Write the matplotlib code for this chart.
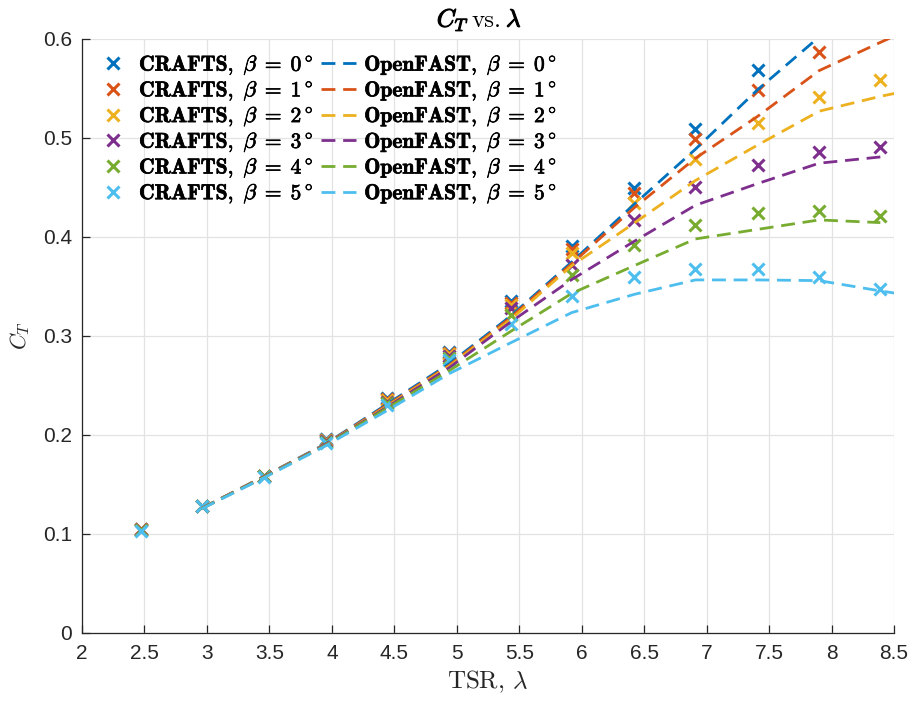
import numpy as np
import matplotlib
matplotlib.use("Agg")
import matplotlib.pyplot as plt
import matplotlib.patheffects as pe

plt.rcParams['mathtext.fontset'] = 'cm'
plt.rcParams['font.family'] = ['Liberation Sans', 'DejaVu Sans']

# pitch angles and MATLAB default colour order
betas = [0, 1, 2, 3, 4, 5]
colors = ['#0072BD', '#D95319', '#EDB120', '#7E2F8E', '#77AC30', '#4DBEEE']

# CRAFTS samples
tsr_crafts = [2.47, 2.96, 3.46, 3.95, 4.44, 4.94, 5.43, 5.92, 6.42, 6.91, 7.41, 7.90, 8.39]
ct_crafts = [
    [0.105, 0.128, 0.159, 0.196, 0.237, 0.2835, 0.335, 0.391, 0.449, 0.5095, 0.569, np.nan, np.nan],
    [0.105, 0.128, 0.159, 0.195, 0.236, 0.2825, 0.333, 0.3875, 0.444, 0.499, 0.548, 0.587, np.nan],
    [0.104, 0.128, 0.159, 0.195, 0.235, 0.2815, 0.331, 0.3835, 0.4345, 0.4785, 0.515, 0.541, 0.559],
    [0.104, 0.128, 0.159, 0.194, 0.233, 0.280, 0.328, 0.372, 0.4175, 0.450, 0.473, 0.4855, 0.491],
    [0.104, 0.128, 0.1585, 0.193, 0.232, 0.278, 0.321, 0.3615, 0.392, 0.412, 0.424, 0.426, 0.421],
    [0.103, 0.128, 0.158, 0.192, 0.230, 0.2755, 0.3125, 0.3405, 0.3595, 0.368, 0.368, 0.360, 0.3475],
]

# OpenFAST runs
tsr_of = [2.96, 3.46, 3.95, 4.44, 4.94, 5.43, 5.92, 6.42, 6.91, 7.41, 7.90, 8.39, 8.89]
ct_of = [
    [0.126, 0.1585, 0.191, 0.231, 0.272, 0.320, 0.3747, 0.433, 0.4886, 0.549, 0.602, 0.655, np.nan],
    [0.126, 0.1583, 0.1905, 0.230, 0.2705, 0.3185, 0.373, 0.4295, 0.4795, 0.522, 0.568, 0.5965, 0.625],
    [0.126, 0.158, 0.1902, 0.229, 0.2695, 0.3165, 0.371, 0.414, 0.457, 0.493, 0.527, 0.542, 0.555],
    [0.126, 0.1578, 0.190, 0.228, 0.268, 0.314, 0.357, 0.3956, 0.432, 0.454, 0.4745, 0.4808, np.nan],
    [0.1258, 0.1575, 0.1895, 0.227, 0.265, 0.3045, 0.343, 0.371, 0.398, 0.4077, 0.4172, 0.4145, np.nan],
    [0.1255, 0.157, 0.189, 0.2245, 0.262, 0.293, 0.3236, 0.342, 0.3566, 0.3566, 0.3559, 0.3455, 0.336],
]

fig = plt.figure(figsize=(9.14, 7.03), dpi=100)
ax = fig.add_axes([0.0897, 0.0996, 0.8885, 0.845])

handles = []
for b, c, y in zip(betas, colors, ct_crafts):
    h, = ax.plot(tsr_crafts, y, 'x', color=c, ms=8.5, mew=2.2,
                 label=r'$\mathbf{CRAFTS,}\ \beta\;=\;\mathbf{%d}^\circ$' % b)
    handles.append(h)
for b, c, y in zip(betas, colors, ct_of):
    h, = ax.plot(tsr_of, y, '--', color=c, lw=2.0, dashes=(5.0, 2.8),
                 label=r'$\mathbf{OpenFAST,}\ \beta\;=\;\mathbf{%d}^\circ$' % b)
    handles.append(h)

ax.set_xlim(2, 8.5)
ax.set_ylim(0, 0.6)
ax.set_xticks(np.arange(2, 8.51, 0.5))
ax.set_xticklabels(['2', '2.5', '3', '3.5', '4', '4.5', '5', '5.5', '6', '6.5', '7', '7.5', '8', '8.5'])
ax.set_yticks(np.arange(0, 0.61, 0.1))
ax.set_yticklabels(['0', '0.1', '0.2', '0.3', '0.4', '0.5', '0.6'])
ax.grid(True, color='#e3e3e3', lw=0.9)
ax.set_axisbelow(True)
for s in ['top', 'right']:
    ax.spines[s].set_visible(False)
for s in ['left', 'bottom']:
    ax.spines[s].set_color('#262626')
    ax.spines[s].set_linewidth(0.9)
ax.tick_params(direction='in', length=6, width=0.9, colors='#262626', labelsize=15)
ax.tick_params(axis='x', pad=8)
ax.tick_params(axis='y', pad=7)

ax.set_xlabel(r'TSR, $\lambda$', fontsize=18, fontfamily='cmr10', color='#262626', labelpad=4)
ax.set_ylabel(r'$C_T$', fontsize=16, color='#262626', labelpad=8)

# title in three pieces so only C_T and lambda are bold
bold = [pe.withStroke(linewidth=0.8, foreground='black')]
fig.text(469 / 914, 0.962, r'$C_T$', fontsize=18, ha='right', va='baseline', path_effects=bold)
fig.text(487 / 914, 0.962, 'vs.', fontsize=18, fontfamily='cmr10', ha='center', va='baseline')
fig.text(506 / 914, 0.962, r'$\lambda$', fontsize=18, ha='left', va='baseline', path_effects=bold)

leg = ax.legend(handles=handles, ncol=2, loc='upper left', frameon=False, fontsize=15.5,
                handlelength=1.6, handletextpad=0.4, columnspacing=0.35, labelspacing=0.05,
                borderaxespad=0.25, bbox_to_anchor=(0.0, 1.0))
for t in leg.get_texts():
    t.set_path_effects([pe.withStroke(linewidth=0.5, foreground='black')])

fig.savefig('out.png', dpi=100)
